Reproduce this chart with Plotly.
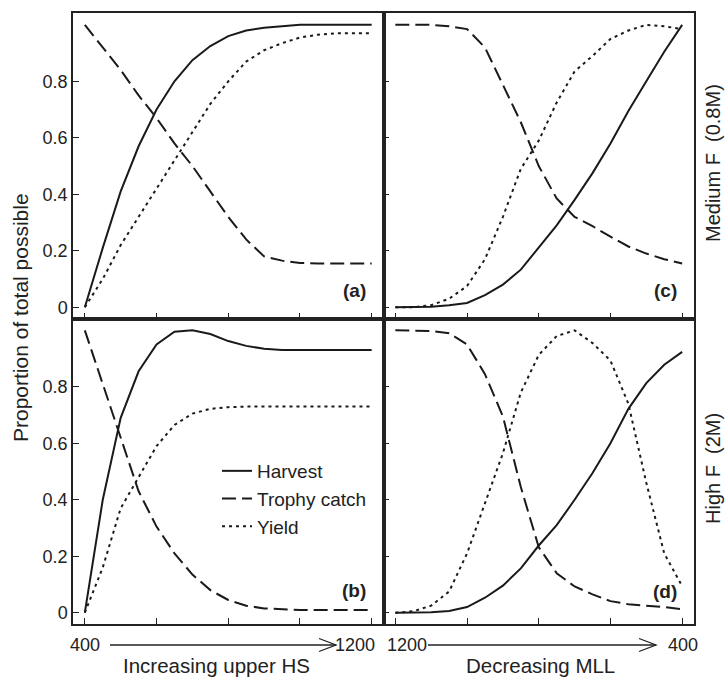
import plotly.graph_objects as go
from plotly.subplots import make_subplots

# ---------------- data ----------------
hs = [400, 450, 500, 550, 600, 650, 700, 750, 800, 850, 900, 950, 1000, 1050, 1100, 1150, 1200]
mll = [1200, 1150, 1100, 1050, 1000, 950, 900, 850, 800, 750, 700, 650, 600, 550, 500, 450, 400]

harvest_a = [0, 0.21, 0.41, 0.57, 0.70, 0.80, 0.875, 0.925, 0.96, 0.98, 0.99, 0.996, 1.0, 1.0, 1.0, 1.0, 1.0]
trophy_a = [1.0, 0.92, 0.84, 0.75, 0.67, 0.58, 0.50, 0.41, 0.32, 0.24, 0.18, 0.165, 0.157, 0.155, 0.155, 0.155, 0.155]
yield_a = [0, 0.10, 0.22, 0.32, 0.42, 0.52, 0.62, 0.72, 0.80, 0.87, 0.91, 0.935, 0.955, 0.965, 0.97, 0.97, 0.97]

harvest_b = [0, 0.40, 0.69, 0.855, 0.95, 0.995, 1.0, 0.987, 0.962, 0.945, 0.935, 0.93, 0.93, 0.93, 0.93, 0.93, 0.93]
trophy_b = [1.0, 0.81, 0.62, 0.43, 0.305, 0.21, 0.135, 0.08, 0.045, 0.025, 0.015, 0.012, 0.01, 0.01, 0.01, 0.01, 0.01]
yield_b = [0, 0.16, 0.37, 0.48, 0.59, 0.665, 0.705, 0.722, 0.728, 0.73, 0.73, 0.73, 0.73, 0.73, 0.73, 0.73, 0.73]

harvest_c = [0, 0, 0.002, 0.007, 0.015, 0.043, 0.08, 0.133, 0.21, 0.29, 0.38, 0.475, 0.58, 0.695, 0.80, 0.905, 1.0]
trophy_c = [1.0, 1.0, 1.0, 0.995, 0.985, 0.92, 0.79, 0.655, 0.50, 0.385, 0.32, 0.287, 0.25, 0.215, 0.19, 0.17, 0.155]
yield_c = [0, 0, 0.007, 0.03, 0.075, 0.17, 0.32, 0.49, 0.59, 0.725, 0.835, 0.89, 0.95, 0.98, 1.0, 0.995, 0.985]

harvest_d = [0, 0, 0.002, 0.006, 0.02, 0.053, 0.096, 0.157, 0.238, 0.31, 0.40, 0.495, 0.60, 0.722, 0.813, 0.878, 0.924]
trophy_d = [1.0, 1.0, 0.998, 0.99, 0.95, 0.845, 0.695, 0.445, 0.232, 0.14, 0.093, 0.065, 0.041, 0.03, 0.025, 0.02, 0.012]
yield_d = [0, 0.005, 0.025, 0.075, 0.21, 0.39, 0.565, 0.78, 0.913, 0.98, 1.0, 0.955, 0.893, 0.74, 0.46, 0.21, 0.094]

y_ticks = [0, 0.2, 0.4, 0.6, 0.8]
y_ticklabels = ["0", "0.2", "0.4", "0.6", "0.8"]
x_ticks = [400, 600, 800, 1000, 1200]
series_names = ["Harvest", "Trophy catch", "Yield"]
panel_labels = ["(a)", "(c)", "(b)", "(d)"]

# ---------------- figure ----------------
W, H = 725, 678
ML, MR, MT, MB = 73, 31, 13, 54
PW, PH = W - ML - MR, H - MT - MB
FONT = "Liberation Sans, Arial, Helvetica, sans-serif"
INK = "#1a1a1a"

def px(x):
    return (x - ML) / PW

def py(y):
    return (H - MB - y) / PH

fig = make_subplots(rows=2, cols=2, horizontal_spacing=0, vertical_spacing=0)

dashes = ["solid", "14px,6px", "3px,4px"]
panels = [
    (1, 1, hs, [harvest_a, trophy_a, yield_a]),
    (1, 2, mll, [harvest_c, trophy_c, yield_c]),
    (2, 1, hs, [harvest_b, trophy_b, yield_b]),
    (2, 2, mll, [harvest_d, trophy_d, yield_d]),
]
for (r, c, xs, ys_list) in panels:
    for name, ys, dash in zip(series_names, ys_list, dashes):
        fig.add_trace(
            go.Scatter(
                x=xs, y=ys, mode="lines", name=name,
                line=dict(color=INK, width=2, dash=dash),
                showlegend=(r == 2 and c == 1),
            ),
            row=r, col=c,
        )

axis_common = dict(
    showline=True, mirror=True, linecolor="#222", linewidth=1.5,
    showgrid=False, zeroline=False, ticks="inside", ticklen=6,
    tickwidth=1.3, tickcolor="#222",
)
for r in (1, 2):
    for c in (1, 2):
        rng = [367, 1233] if c == 1 else [1233, 367]
        fig.update_xaxes(range=rng, tickvals=x_ticks, showticklabels=False,
                         row=r, col=c, **axis_common)
        fig.update_yaxes(range=[-0.04, 1.042], tickvals=y_ticks,
                         ticktext=y_ticklabels, showticklabels=(c == 1),
                         tickfont=dict(size=18, color="#222", family=FONT),
                         ticklabelstandoff=0,
                         row=r, col=c, **axis_common)

ann = []
# y title
ann.append(dict(text="Proportion of total possible", x=px(20), y=py(318),
                textangle=-90, font=dict(size=21)))
# right-hand row labels
ann.append(dict(text="Medium F  (0.8M)", x=px(713), y=py(163), textangle=-90,
                font=dict(size=20)))
ann.append(dict(text="High F  (2M)", x=px(713), y=py(469), textangle=-90,
                font=dict(size=20)))
# panel labels
for lab, (xr, yc) in zip(panel_labels, [(368, 290), (679, 290), (368, 590), (679, 591)]):
    ann.append(dict(text="<b>" + lab + "</b>", x=px(xr), y=py(yc), xanchor="right",
                    font=dict(size=19)))
# axis end labels
for txt, xc in [("400", 85), ("1200", 355), ("1200", 407), ("400", 683)]:
    ann.append(dict(text=txt, x=px(xc), y=py(645), font=dict(size=18)))
# x titles
ann.append(dict(text="Increasing upper HS", x=px(216), y=py(665), font=dict(size=20.5)))
ann.append(dict(text="Decreasing MLL", x=px(540), y=py(665), font=dict(size=20.5)))

for a in ann:
    a.setdefault("xanchor", "center")
    a.update(xref="paper", yref="paper", yanchor="middle", showarrow=False)
    a["font"].update(family=FONT, color="#222")
fig.update_layout(annotations=ann)

shapes = []
for x0, x1 in [(110, 336), (428, 656)]:
    shapes.append(dict(type="line", xref="paper", yref="paper",
                       x0=px(x0), x1=px(x1), y0=py(645), y1=py(645),
                       line=dict(color="#222", width=1.3)))
    path = "M {},{} L {},{} L {},{}".format(px(x1 - 17), py(638.5), px(x1), py(645),
                                           px(x1 - 17), py(651.5))
    shapes.append(dict(type="path", xref="paper", yref="paper", path=path,
                       line=dict(color="#222", width=1.3)))
fig.update_layout(shapes=shapes)

fig.update_layout(
    width=W, height=H,
    margin=dict(l=ML, r=MR, t=MT, b=MB),
    paper_bgcolor="white", plot_bgcolor="white",
    font=dict(family=FONT, color="#222"),
    showlegend=True,
    legend=dict(x=px(217), y=py(452), xanchor="left", yanchor="top",
                bgcolor="rgba(0,0,0,0)", font=dict(size=19, family=FONT, color="#222"),
                tracegroupgap=0, itemwidth=30),
)

fig.write_html("out.html", config={"displayModeBar": False},
               post_script="document.body.style.margin='0';document.body.style.overflow='hidden';")
